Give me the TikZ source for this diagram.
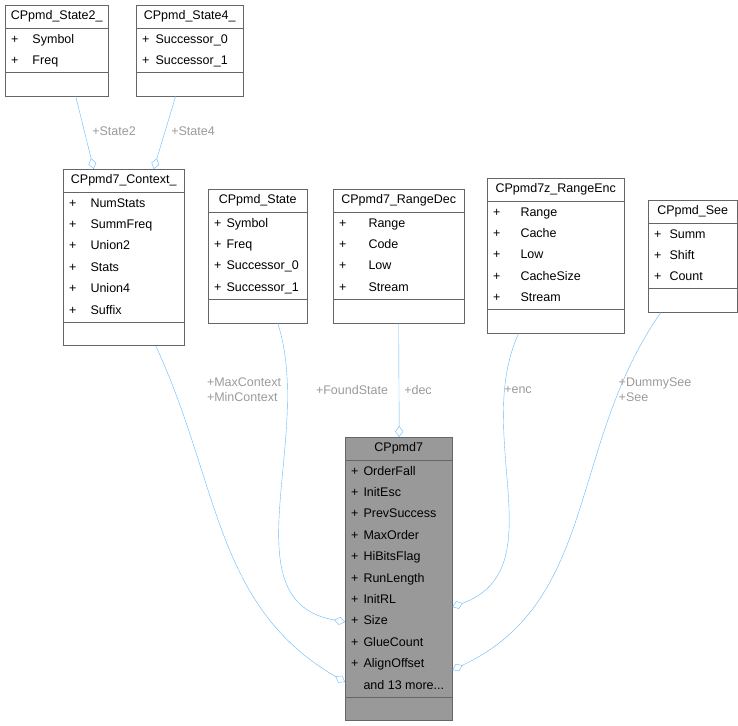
\documentclass[tikz,border=0pt]{standalone}
\usepackage{fontspec}
\setmainfont{Liberation Sans}
\usetikzlibrary{arrows.meta}
\definecolor{edgeblue}{HTML}{63B8FF}
\definecolor{labelgray}{HTML}{9A9A9A}
\definecolor{boxgray}{HTML}{999999}
\definecolor{boxline}{HTML}{666666}

\newcommand\gap{10pt}
\newcommand\mem[1]{\strut+\hspace{\gap}#1}
\newcommand\more[1]{\strut\hphantom{+}\hspace{\gap}#1}
% #1 name, #2 x, #3 y, #4 width, #5 title, #6 rows, #7 members, #8 fill
\newcommand\umlclass[8]{%
  \pgfmathsetmacro\hgt{23+21.4*#6+1+24}
  \node[classbox, fill=#8, minimum width=#4, minimum height=\hgt pt, anchor=north west] (#1) at (#2,#3) {};
  \node[anchor=north, inner sep=0pt] at ([yshift=-4]#1.north) {\strut #5};
  \draw[boxline] ([yshift=-23]#1.north west) -- ([yshift=-23]#1.north east);
  \draw[boxline] ([yshift=24]#1.south west) -- ([yshift=24]#1.south east);
  \node[members, anchor=north west] at ([xshift=6,yshift=-23]#1.north west) {#7};
}

\begin{document}
\begin{tikzpicture}[x=1pt,y=-1pt,
    font=\fontsize{12.5}{15}\selectfont,
    classbox/.style={draw=boxline, inner sep=0pt},
    members/.style={inner sep=0pt, align=left, font=\fontsize{12.5}{21.4}\selectfont},
    assoc/.style={draw=edgeblue, -{Diamond[open,length=11pt,width=8pt]}},
    lbl/.style={text=labelgray, inner sep=1pt}]
  \useasboundingbox (0,0) rectangle (738,725);

  % classes
  \renewcommand\gap{14pt}
  \umlclass{state2}{5}{5}{103}{CPpmd\_State2\_}{2}{\mem{Symbol}\\\mem{Freq}}{white}
  \renewcommand\gap{6pt}
  \umlclass{state4}{136}{5}{107}{CPpmd\_State4\_}{2}{\mem{Successor\_0}\\\mem{Successor\_1}}{white}
  \renewcommand\gap{14pt}
  \umlclass{ctx}{63}{169}{121}{CPpmd7\_Context\_}{6}{\mem{NumStats}\\\mem{SummFreq}\\\mem{Union2}\\\mem{Stats}\\\mem{Union4}\\\mem{Suffix}}{white}
  \renewcommand\gap{5pt}
  \umlclass{state}{208}{189}{99}{CPpmd\_State}{4}{\mem{Symbol}\\\mem{Freq}\\\mem{Successor\_0}\\\mem{Successor\_1}}{white}
  \renewcommand\gap{22pt}
  \umlclass{rdec}{333}{189}{131}{CPpmd7\_RangeDec}{4}{\mem{Range}\\\mem{Code}\\\mem{Low}\\\mem{Stream}}{white}
  \renewcommand\gap{20pt}
  \umlclass{renc}{487}{178}{137}{CPpmd7z\_RangeEnc}{5}{\mem{Range}\\\mem{Cache}\\\mem{Low}\\\mem{CacheSize}\\\mem{Stream}}{white}
  \renewcommand\gap{8pt}
  \umlclass{see}{648}{200}{89}{CPpmd\_See}{3}{\mem{Summ}\\\mem{Shift}\\\mem{Count}}{white}
  \renewcommand\gap{5pt}
  \umlclass{ppmd}{345}{437}{107}{CPpmd7}{11}{\mem{OrderFall}\\\mem{InitEsc}\\\mem{PrevSuccess}\\\mem{MaxOrder}\\\mem{HiBitsFlag}\\\mem{RunLength}\\\mem{InitRL}\\\mem{Size}\\\mem{GlueCount}\\\mem{AlignOffset}\\\more{and 13 more...}}{boxgray}

  % associations
  \draw[assoc] ([xshift=19]state2.south) -- ([xshift=-30]ctx.north);
  \draw[assoc] ([xshift=-14]state4.south) -- ([xshift=30]ctx.north);
  \draw[assoc] ([xshift=32]ctx.south) to[out=-65,in=150] ([yshift=-103]ppmd.west);
  \draw[assoc] ([xshift=20]state.south) to[out=-72,in=170] ([yshift=-43]ppmd.west);
  \draw[assoc] (rdec.south) -- ([xshift=0.5]ppmd.north);
  \draw[assoc] ([xshift=-37]renc.south) to[out=-115,in=20] ([yshift=-28]ppmd.east);
  \draw[assoc] ([xshift=-32]see.south) to[out=-125,in=25] ([yshift=-91]ppmd.east);

  % labels
  \node[lbl] (l2) at (114,131) {+State2};
  \node[lbl] (l4) at (193,131) {+State4};
  \node[lbl, align=left] (lctx) at (244,390) {+MaxContext\\+MinContext};
  \node[lbl] (lfs) at (352,390) {+FoundState};
  \node[lbl] (ldec) at (418,390) {+dec};
  \node[lbl] (lenc) at (518,390) {+enc};
  \node[lbl, align=left] (lsee) at (655,390) {+DummySee\\+See};
\end{tikzpicture}
\end{document}
